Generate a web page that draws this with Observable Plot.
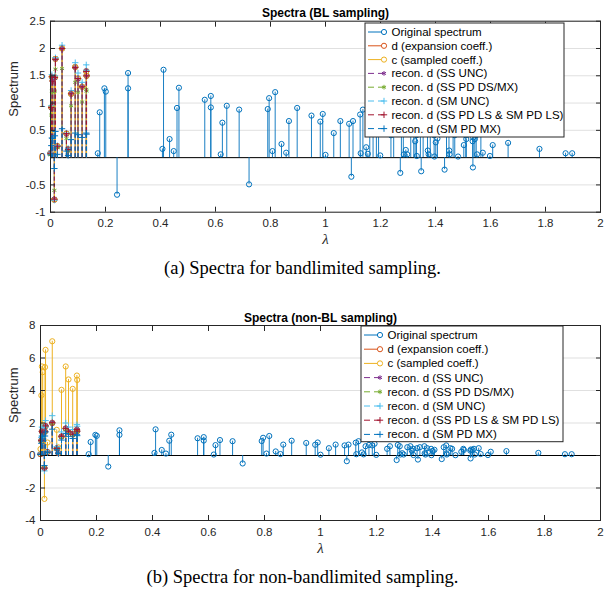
<!DOCTYPE html>
<html><head><meta charset="utf-8">
<script src="https://cdn.jsdelivr.net/npm/d3@7"></script>
<script src="https://cdn.jsdelivr.net/npm/@observablehq/plot@0.6"></script>
<style>
body{margin:0;background:#fff;}
#wrap{position:relative;width:605px;height:595px;overflow:hidden;background:#fff;}
.panel{position:absolute;left:0;}
.cap{position:absolute;left:0;width:605px;text-align:center;font-family:"Liberation Serif","DejaVu Serif",serif;font-size:18.5px;color:#000;line-height:1;}
</style></head><body><div id="wrap"></div>
<script>
// ---------- data ----------
const xTicks = [0, 0.2, 0.4, 0.6, 0.8, 1, 1.2, 1.4, 1.6, 1.8, 2];
const yTicksA = [-1, -0.5, 0, 0.5, 1, 1.5, 2, 2.5];
const yTicksB = [-4, -2, 0, 2, 4, 6, 8];

// low-frequency eigenvalues (bandlimited part)
const lamLow = [0, 0.003, 0.005, 0.008, 0.014, 0.016, 0.018, 0.025, 0.042, 0.058, 0.064, 0.075, 0.09, 0.1, 0.115, 0.13, 0.131];
const dCoef  = [0.08, 0.92, 1.48, 1.41, -0.77, 1.47, 1.81, 0.21, 2.0, 0.44, 0.15, 1.17, 1.66, 1.45, 1.3, 1.58, 1.5];
const cCoefA = [0.08, 0.92, 1.48, 1.41, -0.77, 1.47, 1.81, 0.21, 2.0, 0.44, 0.15, 1.17, 1.66, 1.45, 1.3, 1.58, 1.5];
const cCoefB = [0.4, 3.7, 5.48, 5.13, -2.67, 5.44, 6.5, 0.8, 7.03, 1.58, 0.5, 4.04, 5.48, 4.68, 4.1, 4.92, 4.65];

// reconstructions, BL sampling
const ssUncA = [0.1, 0.9, 1.46, 1.4, -0.75, 1.45, 1.8, 0.2, 2.0, 0.42, 0.16, 1.18, 1.65, 1.43, 1.3, 1.6, 1.5];
const ssPdA  = [0.05, 0.78, 1.22, 1.2, -0.6, 1.22, 1.62, 0.18, 1.63, 0.35, 0.12, 0.95, 1.38, 1.2, 1.02, 1.25, 1.22];
const smUncA = [0.1, 0.95, 1.52, 1.45, -0.78, 1.5, 1.83, 0.22, 2.06, 0.45, 0.17, 1.23, 1.74, 1.55, 1.38, 1.7, 1.6];
const lsA    = [0.08, 0.92, 1.48, 1.4, -0.76, 1.47, 1.8, 0.21, 2.0, 0.44, 0.15, 1.17, 1.65, 1.45, 1.3, 1.58, 1.5];
const mxA    = [0.05, 0.22, 0.36, 0.35, -0.2, 0.4, 0.48, 0.06, 0.53, 0.12, 0.04, 0.33, 0.45, 0.42, 0.37, 0.45, 0.43];

// reconstructions, non-BL sampling
const ssUncB = [0.1, 0.95, 1.52, 1.45, -0.8, 1.5, 1.85, 0.22, 2.05, 0.45, 0.16, 1.2, 1.7, 1.5, 1.33, 1.62, 1.55];
const ssPdB  = [0.08, 0.9, 1.42, 1.38, -0.74, 1.44, 1.76, 0.2, 1.95, 0.42, 0.14, 1.12, 1.6, 1.4, 1.25, 1.5, 1.45];
const smUncB = [0.15, 1.1, 1.75, 1.7, -0.95, 1.75, 2.15, 0.27, 2.45, 0.55, 0.2, 1.45, 2.0, 1.75, 1.6, 1.9, 1.8];
const lsB    = [0.08, 0.93, 1.49, 1.42, -0.78, 1.48, 1.82, 0.21, 2.02, 0.44, 0.15, 1.18, 1.67, 1.46, 1.31, 1.6, 1.5];
const mxB    = [0.06, 0.75, 1.2, 1.15, -0.62, 1.2, 1.45, 0.17, 1.62, 0.35, 0.12, 0.95, 1.35, 1.18, 1.05, 1.28, 1.22];

// high-frequency part of the original spectrum
const lamHigh = [0.172, 0.179, 0.196, 0.201, 0.242, 0.282, 0.282, 0.407, 0.411, 0.433, 0.448, 0.46, 0.467,
  0.561, 0.583, 0.583, 0.619, 0.625, 0.641, 0.686, 0.722, 0.79, 0.795, 0.807, 0.817, 0.84, 0.857, 0.867, 0.897,
  0.949, 0.981, 0.99, 1.0, 1.03, 1.054, 1.086, 1.094, 1.1, 1.126, 1.128, 1.136, 1.148, 1.154, 1.161, 1.173,
  1.185, 1.193, 1.199, 1.238, 1.248, 1.272, 1.276, 1.283, 1.285, 1.292, 1.297, 1.31, 1.321, 1.326, 1.331,
  1.332, 1.345, 1.348, 1.355, 1.371, 1.372, 1.375, 1.381, 1.395, 1.396, 1.401, 1.407, 1.433, 1.44, 1.449,
  1.45, 1.451, 1.464, 1.47, 1.482, 1.503, 1.51, 1.512, 1.535, 1.536, 1.537, 1.543, 1.548, 1.551, 1.565,
  1.572, 1.598, 1.608, 1.664, 1.778, 1.873, 1.897];
const valHigh = [0.08, 0.83, 1.27, 1.21, -0.68, 1.55, 1.27, 0.16, 1.61, 0.34, 0.12, 0.91, 1.28,
  1.06, 1.13, 0.92, 0.06, 0.64, 0.95, 0.88, -0.49, 0.89, 1.09, 0.12, 1.2, 0.25, 0.09, 0.67, 0.91,
  0.77, 0.66, 0.8, 0.05, 0.45, 0.67, 0.62, -0.35, 0.67, 0.79, 0.08, 0.88, 0.19, 0.07, 0.57, 0.65,
  0.62, 0.72, 0.04, 0.41, 0.57, -0.28, 0.65, 0.57, 0.06, 0.14, 0.06, 0.51, 0.57, 0.3, 0.41,
  0.03, 0.45, -0.25, 0.51, 0.57, 0.13, 0.06, 0.45, 0.41, 0.02, 0.28, 0.35, -0.22, 0.51, 0.62,
  0.13, 0.06, 0.45, 0.41, 0.02, 0.23, 0.41, 0.34, 0.3, -0.18, 0.37, 0.34, 0.41, 0.06, 0.45,
  0.09, 0.03, 0.23, 0.27, 0.16, 0.08, 0.08];

const legendLabels = ["Original spectrum", "d (expansion coeff.)", "c (sampled coeff.)", "recon. d (SS UNC)",
  "recon. d (SS PD DS/MX)", "recon. d (SM UNC)", "recon. d (SS PD LS & SM PD LS)", "recon. d (SM PD MX)"];

// ---------- styling ----------
const COLORS = ["#0072BD", "#D95319", "#EDB120", "#7E2F8E", "#77AC30", "#4DBEEE", "#A2142F", "#0072BD"];
const SYMBOLS = ["circle", "circle", "circle", "asterisk", "asterisk", "plus", "plus", "plus"];
const DASHED = [false, false, false, true, true, true, true, true];
const AX = "#262626";
const FONT = "'Liberation Sans', Arial, Helvetica, sans-serif";

const origLam = lamLow.concat(lamHigh);
const origVal = dCoef.concat(valHigh);

function symR(i) { return SYMBOLS[i] === "circle" ? 2.6 : 2.2; }

function stemMarks(lams, vals, i) {
  const data = lams.map((l, k) => ({x: l, y: vals[k]}));
  return [
    Plot.ruleX(data, {x: "x", y1: 0, y2: "y", stroke: COLORS[i], strokeWidth: i === 0 ? 0.9 : 1,
      strokeDasharray: DASHED[i] ? "4,2.5" : null}),
    Plot.dot(data, {x: "x", y: "y", stroke: COLORS[i], fill: "none", strokeWidth: 1,
      symbol: SYMBOLS[i], r: symR(i)})
  ];
}

function panel(cfg) {
  const series = [
    [origLam, origVal], [lamLow, dCoef], [lamLow, cfg.c],
    [lamLow, cfg.r[0]], [lamLow, cfg.r[1]], [lamLow, cfg.r[2]], [lamLow, cfg.r[3]], [lamLow, cfg.r[4]]
  ];
  const svg = Plot.plot({
    width: 605, height: cfg.height,
    marginLeft: cfg.ml, marginRight: 5, marginTop: cfg.mt, marginBottom: cfg.mb,
    style: {fontFamily: FONT, fontSize: "11px", color: AX, background: "white", overflow: "visible"},
    x: {domain: [0, 2], ticks: xTicks, label: null},
    y: {domain: cfg.ydom, ticks: cfg.yticks, label: null},
    marks: [
      Plot.gridY(cfg.yticks, {stroke: AX, strokeOpacity: 0.14}),
      Plot.ruleY([0], {stroke: "#000", strokeWidth: 1}),
      ...series.flatMap((s, i) => stemMarks(s[0], s[1], i)),
      Plot.frame({stroke: AX, strokeWidth: 1}),
      Plot.axisX(xTicks, {anchor: "bottom", tickSize: -5, tickPadding: 12, tickFormat: d => String(d), fontSize: 11.5}),
      Plot.axisX(xTicks, {anchor: "top", tickSize: -5, tickFormat: () => ""}),
      Plot.axisY(cfg.yticks, {anchor: "left", tickSize: -5, tickPadding: 10, tickFormat: d => String(d), fontSize: 11.5}),
      Plot.axisY(cfg.yticks, {anchor: "right", tickSize: -5, tickFormat: () => ""}),
      Plot.text([cfg.title], {frameAnchor: "top", lineAnchor: "bottom", dy: -4, fontWeight: "bold", fontSize: 12, fill: "#000"}),
      Plot.text(["Spectrum"], {frameAnchor: "left", rotate: -90, dx: cfg.ylabDx, fontSize: 13, fill: AX}),
      Plot.text(["λ"], {frameAnchor: "bottom", dy: cfg.xlabDy, fontSize: 15, fontStyle: "italic", fontFamily: "'Liberation Serif', serif", fill: AX})
    ]
  });
  // legend
  const lg = cfg.legend;
  const g = d3.select(svg).append("g").attr("text-anchor", "start");
  g.append("rect").attr("x", lg.x).attr("y", lg.y).attr("width", lg.w).attr("height", lg.h)
    .attr("fill", "white").attr("stroke", AX).attr("stroke-width", 1);
  legendLabels.forEach((lab, i) => {
    const yy = lg.y + lg.first + i * lg.step;
    g.append("line").attr("x1", lg.x + 3).attr("x2", lg.x + 19).attr("y1", yy).attr("y2", yy)
      .attr("stroke", COLORS[i]).attr("stroke-width", 1).attr("stroke-dasharray", DASHED[i] ? "6,4" : null);
    const type = SYMBOLS[i] === "circle" ? d3.symbolCircle : SYMBOLS[i] === "plus" ? d3.symbolPlus : d3.symbolAsterisk;
    const r = symR(i);
    g.append("path").attr("d", d3.symbol(type, Math.PI * r * r)()).attr("transform", `translate(${lg.x + 19},${yy})`)
      .attr("fill", SYMBOLS[i] === "circle" ? "white" : "none").attr("stroke", COLORS[i]).attr("stroke-width", 1);
    g.append("text").attr("x", lg.x + 26.5).attr("y", yy).attr("dy", "0.35em").attr("text-anchor", "start")
      .attr("font-family", FONT).attr("font-size", 11.5).attr("fill", "#000").text(lab);
  });
  return svg;
}

const wrap = document.getElementById("wrap");

const svgA = panel({
  height: 250, mt: 20.7, mb: 38.3, ml: 50, ydom: [-1, 2.5], yticks: yTicksA,
  title: "Spectra (BL sampling)", c: cCoefA, r: [ssUncA, ssPdA, smUncA, lsA, mxA],
  ylabDx: -37, xlabDy: 32,
  legend: {x: 365, y: 23, w: 199, h: 114, first: 9, step: 13.8}
});
svgA.setAttribute("class", "panel"); svgA.style.top = "0px";
wrap.appendChild(svgA);

const svgB = panel({
  height: 260, mt: 25, mb: 40, ml: 40, ydom: [-4, 8], yticks: yTicksB,
  title: "Spectra (non-BL sampling)", c: cCoefB, r: [ssUncB, ssPdB, smUncB, lsB, mxB],
  ylabDx: -27, xlabDy: 32,
  legend: {x: 361, y: 26, w: 202, h: 115.7, first: 9, step: 14.2}
});
svgB.setAttribute("class", "panel"); svgB.style.top = "300px";
wrap.appendChild(svgB);

const capA = document.createElement("div");
capA.className = "cap"; capA.style.top = "259px";
capA.textContent = "(a) Spectra for bandlimited sampling.";
wrap.appendChild(capA);
const capB = document.createElement("div");
capB.className = "cap"; capB.style.top = "568px";
capB.textContent = "(b) Spectra for non-bandlimited sampling.";
wrap.appendChild(capB);
</script></body></html>
